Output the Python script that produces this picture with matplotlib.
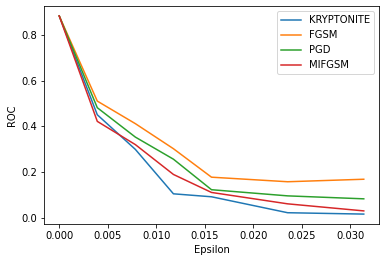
import numpy as np
import matplotlib.pyplot as plt

# epsilon values (k/255)
eps = np.array([0, 1, 2, 3, 4, 6, 8]) / 255

kryptonite = [0.885, 0.451, 0.299, 0.104, 0.091, 0.021, 0.015]
fgsm = [0.885, 0.511, 0.412, 0.302, 0.177, 0.157, 0.168]
pgd = [0.885, 0.482, 0.353, 0.256, 0.122, 0.095, 0.082]
mifgsm = [0.885, 0.422, 0.320, 0.189, 0.110, 0.060, 0.029]

fig = plt.figure(figsize=(386 / 72, 262 / 72), dpi=72)
ax = fig.add_axes([44 / 386, 1 - 224 / 262, 335 / 386, 218 / 262])
ax.plot(eps, kryptonite, label="KRYPTONITE")
ax.plot(eps, fgsm, label="FGSM")
ax.plot(eps, pgd, label="PGD")
ax.plot(eps, mifgsm, label="MIFGSM")
ax.set_xlabel("Epsilon")
ax.set_ylabel("ROC")
ax.legend()
fig.savefig("out.png", dpi=72)
